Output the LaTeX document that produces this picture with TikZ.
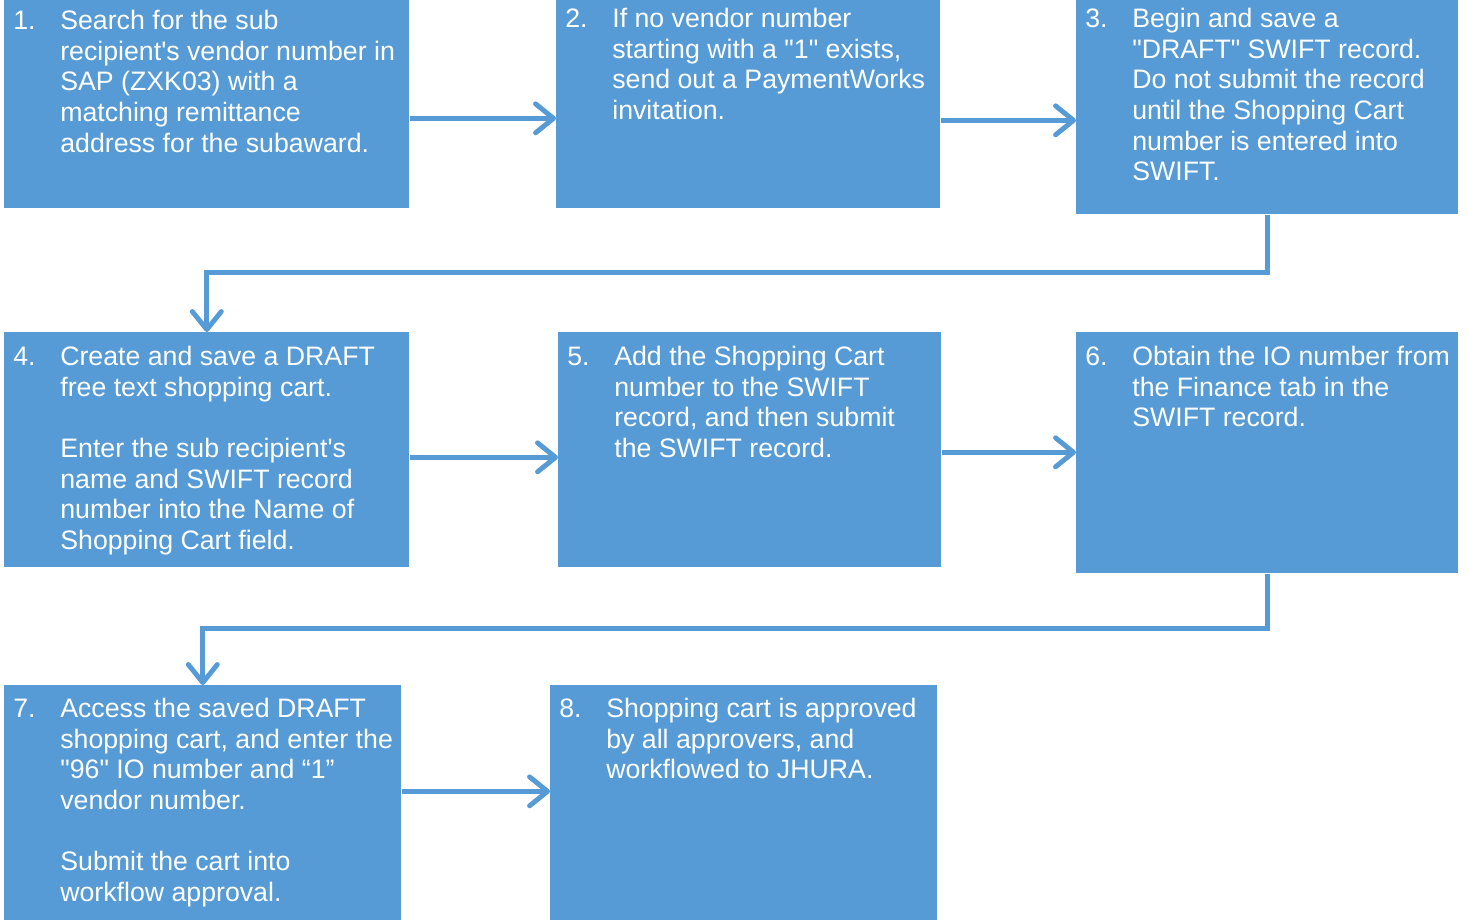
\documentclass[tikz,border=0pt]{standalone}
\usepackage{fontspec}
\setmainfont{Liberation Sans}[Ligatures=TeXOff]
\usetikzlibrary{arrows.meta}
\definecolor{stepblue}{RGB}{86,155,213}

\begin{document}
\begin{tikzpicture}[x=0.02cm,y=-0.02cm,
	box/.style={fill=stepblue,anchor=north west,inner sep=0pt},
	txt/.style={anchor=north west,inner sep=0pt,text=white,font=\fontsize{15.2pt}{17.4pt}\selectfont},
	flow/.style={draw=stepblue,line width=2.8pt,-{Straight Barb[length=0.36cm,width=0.58cm,round]}}]
		\useasboundingbox (0,0) rectangle (1468,920);
		\node[box,minimum width=8.1cm,minimum height=4.16cm] (b1) at (4,0) {};
		\node[box,minimum width=7.68cm,minimum height=4.16cm] (b2) at (556,0) {};
		\node[box,minimum width=7.64cm,minimum height=4.28cm] (b3) at (1076,0) {};
		\node[box,minimum width=8.1cm,minimum height=4.7cm] (b4) at (4,332) {};
		\node[box,minimum width=7.66cm,minimum height=4.7cm] (b5) at (558,332) {};
		\node[box,minimum width=7.64cm,minimum height=4.82cm] (b6) at (1076,332) {};
		\node[box,minimum width=7.94cm,minimum height=4.7cm] (b7) at (4,685) {};
		\node[box,minimum width=7.74cm,minimum height=4.7cm] (b8) at (550,685) {};
		\node[txt] (t1) at ([xshift=0.18cm,yshift=-0.16cm]b1.north west) {\begin{tabular}{@{}p{0.94cm}@{}l@{}}
			1. & Search for the sub\\ & recipient's vendor number in\\ & SAP (ZXK03) with a\\ & matching remittance\\ & address for the subaward.\end{tabular}};
		\node[txt] (t2) at ([xshift=0.18cm,yshift=-0.12cm]b2.north west) {\begin{tabular}{@{}p{0.94cm}@{}l@{}}
			2. & If no vendor number\\ & starting with a "1" exists,\\ & send out a PaymentWorks\\ & invitation.\end{tabular}};
		\node[txt] (t3) at ([xshift=0.18cm,yshift=-0.12cm]b3.north west) {\begin{tabular}{@{}p{0.94cm}@{}l@{}}
			3. & Begin and save a\\ & "DRAFT" SWIFT record.\\ & Do not submit the record\\ & until the Shopping Cart\\ & number is entered into\\ & SWIFT.\end{tabular}};
		\node[txt] (t4) at ([xshift=0.18cm,yshift=-0.24cm]b4.north west) {\begin{tabular}{@{}p{0.94cm}@{}l@{}}
			4. & Create and save a DRAFT\\ & free text shopping cart.\\ & \\ & Enter the sub recipient's\\ & name and SWIFT record\\ & number into the Name of\\ & Shopping Cart field.\end{tabular}};
		\node[txt] (t5) at ([xshift=0.18cm,yshift=-0.24cm]b5.north west) {\begin{tabular}{@{}p{0.94cm}@{}l@{}}
			5. & Add the Shopping Cart\\ & number to the SWIFT\\ & record, and then submit\\ & the SWIFT record.\end{tabular}};
		\node[txt] (t6) at ([xshift=0.18cm,yshift=-0.24cm]b6.north west) {\begin{tabular}{@{}p{0.94cm}@{}l@{}}
			6. & Obtain the IO number from\\ & the Finance tab in the\\ & SWIFT record.\end{tabular}};
		\node[txt] (t7) at ([xshift=0.18cm,yshift=-0.22cm]b7.north west) {\begin{tabular}{@{}p{0.94cm}@{}l@{}}
			7. & Access the saved DRAFT\\ & shopping cart, and enter the\\ & "96" IO number and “1”\\ & vendor number.\\ & \\ & Submit the cart into\\ & workflow approval.\end{tabular}};
		\node[txt] (t8) at ([xshift=0.18cm,yshift=-0.22cm]b8.north west) {\begin{tabular}{@{}p{0.94cm}@{}l@{}}
			8. & Shopping cart is approved\\ & by all approvers, and\\ & workflowed to JHURA.\end{tabular}};
		\draw[flow] ([yshift=-0.28cm]b1.east) -- ([yshift=-0.28cm]b1.east -| b2.west);
		\draw[flow] ([yshift=-0.32cm]b2.east) -- ([yshift=-0.32cm]b2.east -| b3.west);
		\draw[flow] (b3.south) -- ++(0,58) -| (b4.north);
		\draw[flow] ([yshift=-0.15cm]b4.east) -- ([yshift=-0.15cm]b4.east -| b5.west);
		\draw[flow] ([yshift=-0.05cm]b5.east) -- ([yshift=-0.05cm]b5.east -| b6.west);
		\draw[flow] (b6.south) -- ++(0,55) -| (b7.north);
		\draw[flow] ([yshift=0.23cm]b7.east) -- ([yshift=0.23cm]b7.east -| b8.west);
\end{tikzpicture}
\end{document}
